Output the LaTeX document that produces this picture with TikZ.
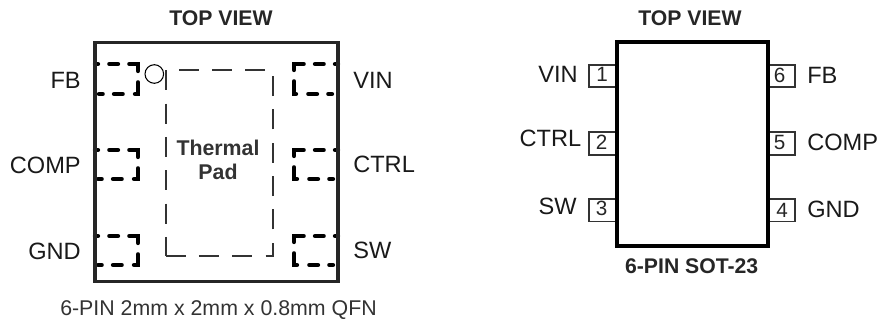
\documentclass[tikz,border=0pt]{standalone}
\usepackage{fontspec}
\setmainfont{Liberation Sans}
\tikzset{
  pinname/.style={font=\fontsize{17.7}{20}\selectfont, inner sep=0pt, text height=12.7pt, text depth=0pt, text=black!90},
  pinnum/.style={font=\fontsize{15.5}{17}\selectfont, inner sep=0pt, text height=11.1pt, text depth=0pt, text=black!85},
  headline/.style={font=\bfseries\fontsize{15.9}{18}\selectfont, inner sep=0pt, text height=11.4pt, text depth=0pt, text=black!85},
  padname/.style={font=\bfseries\fontsize{16}{18}\selectfont, inner sep=0pt, text height=11.5pt, text depth=0pt, text=black!80},
  pkgline/.style={line width=2.6pt, black!85},
  padline/.style={line width=3.2pt, black, line cap=round, dash pattern=on 2.25pt off 8.5pt on 6.5pt off 8.5pt on 11.75pt off 8.5pt on 11pt off 9.25pt on 6.5pt off 8.5pt on 2.75pt off 20pt},
  thermal/.style={line width=1.5pt, black!80, dash pattern=on 15pt off 10pt},
  pinbox/.style={line width=1.2pt, black!80}
}
\begin{document}
\begin{tikzpicture}[x=0.75pt, y=-0.75pt]
\useasboundingbox (0,0) rectangle (881,320);

\node[headline] (qfntitle) at (221,17.5) {TOP VIEW};

\draw[padline] (95,64) -- (138,64) -- (138,94) -- (95,94);
\draw[padline] (95,150) -- (138,150) -- (138,179) -- (95,179);
\draw[padline] (95,236) -- (138,236) -- (138,265) -- (95,265);
\draw[padline] (338,64) -- (294,64) -- (294,94) -- (338,94);
\draw[padline] (338,150) -- (294,150) -- (294,179) -- (338,179);
\draw[padline] (338,236) -- (294,236) -- (294,265) -- (338,265);
\draw[pkgline] (95,42.5) rectangle (338,281.5);

\draw[thermal] (165.5,255.7) -- (272.5,255.7) -- (272.5,70) -- (165.5,70) -- cycle;
\draw[line width=0.8pt] (154.3,74) circle (9.3);

\node[padname] (padtop) at (218,148) {Thermal};
\node[padname] (padbot) at (218,171.5) {Pad};

\node[pinname, anchor=east] (qfnfb) at (81,80) {FB};
\node[pinname, anchor=east] (qfncomp) at (81,165) {COMP};
\node[pinname, anchor=east] (qfngnd) at (81,251) {GND};
\node[pinname, anchor=west] (qfnvin) at (353,80) {VIN};
\node[pinname, anchor=west] (qfnctrl) at (353,164) {CTRL};
\node[pinname, anchor=west] (qfnsw) at (353,250) {SW};

\node[font=\fontsize{16}{18}\selectfont, inner sep=0pt, text height=11.5pt, text depth=0pt, text=black!80] (qfnname) at (218.5,308) {6-PIN 2mm x 2mm x 0.8mm QFN};

\node[headline] (sottitle) at (690,17.5) {TOP VIEW};
\draw[pinbox] (615,65) -- (589,65) -- (589,87) -- (615,87);
\draw[pinbox] (615,132) -- (589,132) -- (589,155) -- (615,155);
\draw[pinbox] (615,199) -- (589,199) -- (589,221.7) -- (615,221.7);
\draw[pinbox] (770,65) -- (795,65) -- (795,87) -- (770,87);
\draw[pinbox] (770,132) -- (795,132) -- (795,155) -- (770,155);
\draw[pinbox] (770,199) -- (795,199) -- (795,221.7) -- (770,221.7);
\draw[line width=3pt, black] (617,42.5) rectangle (768,246);

\node[pinnum] (num1) at (602,74) {1};
\node[pinnum] (num2) at (601.5,142.5) {2};
\node[pinnum] (num3) at (601.5,208) {3};
\node[pinnum] (num6) at (779.5,75) {6};
\node[pinnum] (num5) at (779.5,142) {5};
\node[pinnum] (num4) at (782,210) {4};

\node[pinname, anchor=east] (sotvin) at (578,74) {VIN};
\node[pinname, anchor=east] (sotctrl) at (581.5,138) {CTRL};
\node[pinname, anchor=east] (sotsw) at (577,206) {SW};
\node[pinname, anchor=west] (sotfb) at (807,75) {FB};
\node[pinname, anchor=west] (sotcomp) at (807,142) {COMP};
\node[pinname, anchor=west] (sotgnd) at (807,208.7) {GND};

\node[headline] (sotname) at (691.7,265.7) {6-PIN SOT-23};
\end{tikzpicture}
\end{document}
